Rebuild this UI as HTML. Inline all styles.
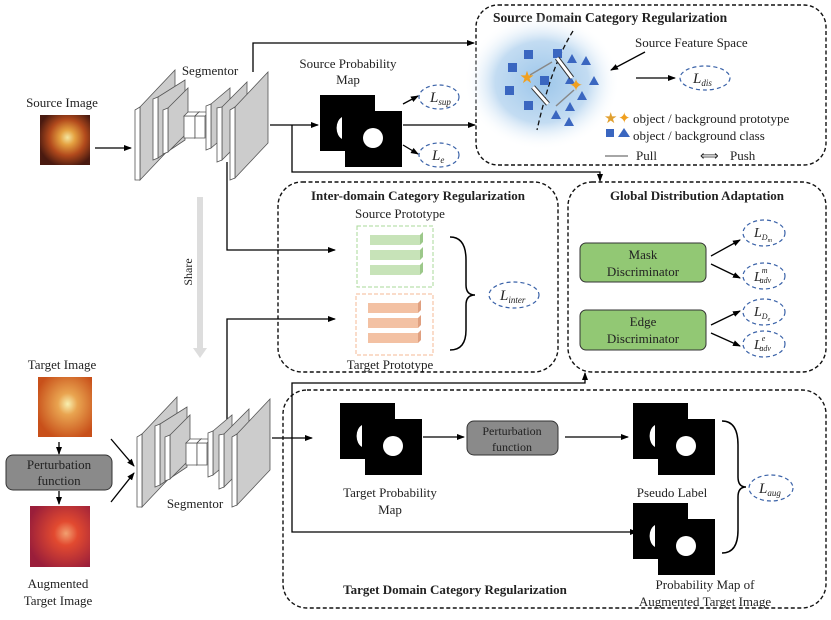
<!DOCTYPE html>
<html><head><meta charset="utf-8"><style>body{margin:0;background:#fff}svg{display:block}text{font-family:"Liberation Serif",serif;fill:#222}</style></head><body>
<svg width="831" height="620" viewBox="0 0 831 620" xmlns="http://www.w3.org/2000/svg">
<defs>
<marker id="a" markerWidth="8" markerHeight="8" refX="7" refY="4" orient="auto" markerUnits="userSpaceOnUse"><path d="M0,1 L8,4 L0,7 Z" fill="#000"/></marker>
<radialGradient id="glow" cx="50%" cy="50%" r="50%"><stop offset="0" stop-color="#9cc6ea"/><stop offset="0.6" stop-color="#c3dcf2"/><stop offset="1" stop-color="#fff" stop-opacity="0"/></radialGradient>
<radialGradient id="fund" cx="55%" cy="45%" r="60%"><stop offset="0" stop-color="#f4e6a0"/><stop offset="0.25" stop-color="#e4a040"/><stop offset="0.6" stop-color="#b24a1c"/><stop offset="1" stop-color="#4a1a10"/></radialGradient>
<radialGradient id="fund3" cx="55%" cy="45%" r="60%"><stop offset="0" stop-color="#f8f0b0"/><stop offset="0.3" stop-color="#e9a450"/><stop offset="1" stop-color="#c8501a"/></radialGradient>
<radialGradient id="fund4" cx="60%" cy="45%" r="65%"><stop offset="0" stop-color="#f2a070"/><stop offset="0.3" stop-color="#e24a30"/><stop offset="1" stop-color="#9a1e3a"/></radialGradient>
<g id="seg" stroke="#555" stroke-width="0.8">
<polygon points="140,180 140,107 175,70 175,143" fill="#ccc"/><polygon points="135,180 135,110 140,107 140,180" fill="#fff"/>
<polygon points="158,158 158,97 185,80 185,140" fill="#ccc"/><polygon points="153,160 153,99 158,97 158,158" fill="#fff"/>
<polygon points="168,152 168,108 188,88 188,132" fill="#ccc"/><polygon points="163,154 163,110 168,108 168,152" fill="#fff"/>
<polygon points="184,138 184,116 195,116 195,138" fill="#fff"/><polygon points="184,116 188,112 199,112 195,116" fill="#fff"/><polygon points="195,138 195,116 199,112 199,134" fill="#ddd"/>
<polygon points="195,138 195,116 205,116 205,138" fill="#fff"/><polygon points="195,116 199,112 209,112 205,116" fill="#fff"/>
<polygon points="211,148 211,104 230,88 230,132" fill="#ccc"/><polygon points="206,150 206,106 211,104 211,148" fill="#fff"/>
<polygon points="222,160 222,107 247,82 247,135" fill="#ccc"/><polygon points="217,162 217,108 222,107 222,160" fill="#fff"/>
<polygon points="235,178 235,107 268,72 268,143" fill="#ccc"/><polygon points="230,180 230,110 235,107 235,178" fill="#fff"/>
</g>
<g id="pm"><rect x="0" y="0" width="55" height="56" fill="#000"/><path d="M22,22 a9,12 0 0 0 0,22 Z" fill="#fff"/><rect x="25" y="16" width="57" height="56" fill="#000"/><circle cx="53" cy="43" r="10" fill="#fff"/></g>
</defs>

<text x="62" y="107" font-size="13" text-anchor="middle">Source Image</text>
<rect x="40" y="115" width="50" height="50" fill="url(#fund)"/>
<line x1="95" y1="148" x2="131" y2="148" stroke="#000" stroke-width="1.3" marker-end="url(#a)"/>

<use href="#seg"/>
<text x="210" y="75" font-size="13" text-anchor="middle">Segmentor</text>
<polyline points="253,72 253,43 474,43" fill="none" stroke="#000" stroke-width="1.3" marker-end="url(#a)"/>
<text x="348" y="68" font-size="13" text-anchor="middle">Source Probability</text>
<text x="348" y="84" font-size="13" text-anchor="middle">Map</text>
<use href="#pm" x="320" y="95"/>
<line x1="270" y1="125" x2="318" y2="125" stroke="#000" stroke-width="1.3" marker-end="url(#a)"/>
<polyline points="292,125 292,172 600,172 600,181" fill="none" stroke="#000" stroke-width="1.3" marker-end="url(#a)"/>
<line x1="403" y1="125" x2="475" y2="125" stroke="#000" stroke-width="1.3" marker-end="url(#a)"/>
<line x1="403" y1="104" x2="418" y2="96" stroke="#000" stroke-width="1.3" marker-end="url(#a)"/>
<line x1="403" y1="145" x2="418" y2="154" stroke="#000" stroke-width="1.3" marker-end="url(#a)"/>
<ellipse cx="439" cy="97" rx="20" ry="12" fill="none" stroke="#3a62a8" stroke-width="1.2" stroke-dasharray="4,3"/>
<text x="430" y="102" font-size="15" font-style="italic">L<tspan font-size="9" dy="3">sup</tspan></text>
<ellipse cx="439" cy="155" rx="20" ry="12" fill="none" stroke="#3a62a8" stroke-width="1.2" stroke-dasharray="4,3"/>
<text x="432" y="160" font-size="15" font-style="italic">L<tspan font-size="9" dy="3">e</tspan></text>

<rect x="476" y="5" width="350" height="160" rx="22" fill="none" stroke="#111" stroke-width="1.4" stroke-dasharray="4,2.5"/>
<text x="493" y="22" font-size="13.5" font-weight="bold">Source Domain Category Regularization</text>
<ellipse cx="542" cy="82" rx="78" ry="68" fill="url(#glow)"/>
<path d="M573,31 C555,60 545,95 537,130" fill="none" stroke="#111" stroke-width="1.3" stroke-dasharray="5,3"/>
<g fill="#3a66c0">
<rect x="524" y="50" width="9" height="9"/><rect x="508" y="63" width="9" height="9"/><rect x="540" y="76" width="9" height="9"/><rect x="505" y="86" width="9" height="9"/><rect x="524" y="101" width="9" height="9"/><rect x="553" y="49" width="9" height="9"/>
<polygon points="572,54 567,63 577,63"/><polygon points="586,56 581,65 591,65"/><polygon points="594,76 589,85 599,85"/><polygon points="582,91 577,100 587,100"/><polygon points="570,102 565,111 575,111"/><polygon points="570,75 565,84 575,84"/><polygon points="556,110 551,119 561,119"/><polygon points="569,117 564,126 574,126"/>
</g>
<line x1="530" y1="75" x2="552" y2="62" stroke="#888" stroke-width="1.5"/>
<line x1="574" y1="90" x2="556" y2="106" stroke="#888" stroke-width="1.5"/>
<path d="M557,58 L572,78" stroke="#333" stroke-width="5"/><path d="M557,58 L572,78" stroke="#fff" stroke-width="3"/>
<path d="M533,87 L548,104" stroke="#333" stroke-width="5"/><path d="M533,87 L548,104" stroke="#fff" stroke-width="3"/>
<text x="527" y="83" font-size="17" style="fill:#f0a020" text-anchor="middle">★</text>
<text x="576" y="91" font-size="17" style="fill:#f0a020" text-anchor="middle">✦</text>
<text x="635" y="47" font-size="13">Source Feature Space</text>
<line x1="645" y1="52" x2="611" y2="70" stroke="#000" stroke-width="1.3" marker-end="url(#a)"/>
<line x1="636" y1="78" x2="675" y2="78" stroke="#000" stroke-width="1.3" marker-end="url(#a)"/>
<ellipse cx="705" cy="78" rx="25" ry="12" fill="none" stroke="#3a62a8" stroke-width="1.2" stroke-dasharray="4,3"/>
<text x="693" y="83" font-size="15" font-style="italic">L<tspan font-size="9" dy="3">dis</tspan></text>
<text x="604" y="123" font-size="15" style="fill:#e0a030">★</text><text x="618" y="123" font-size="15" style="fill:#f0a020">✦</text>
<text x="633" y="123" font-size="13">object / background prototype</text>
<rect x="606" y="129" width="8" height="8" fill="#3a66c0"/><polygon points="624,128 618,137 630,137" fill="#3a66c0"/>
<text x="633" y="140" font-size="13">object / background  class</text>
<line x1="605" y1="156" x2="628" y2="156" stroke="#888" stroke-width="1.5"/>
<text x="636" y="160" font-size="13">Pull</text>
<text x="700" y="160" font-size="13">⟺</text>
<text x="730" y="160" font-size="13">Push</text>

<line x1="200" y1="197" x2="200" y2="350" stroke="#ddd" stroke-width="6"/>
<polygon points="193,348 207,348 200,358" fill="#ddd"/>
<text x="192" y="272" font-size="12" transform="rotate(-90 192 272)" text-anchor="middle">Share</text>

<rect x="278" y="182" width="280" height="190" rx="24" fill="none" stroke="#111" stroke-width="1.4" stroke-dasharray="4,2.5"/>
<text x="418" y="200" font-size="13" font-weight="bold" text-anchor="middle">Inter-domain Category Regularization</text>
<text x="400" y="218" font-size="13" text-anchor="middle">Source Prototype</text>
<rect x="357" y="226" width="76" height="61" fill="none" stroke="#a8d898" stroke-dasharray="4,2"/>
<g fill="#c7e3b8"><rect x="370" y="235" width="50" height="10"/><rect x="370" y="250" width="50" height="10"/><rect x="370" y="265" width="50" height="10"/></g>
<g fill="#9cc88a"><polygon points="420,235 423,232 423,242 420,245"/><polygon points="420,250 423,247 423,257 420,260"/><polygon points="420,265 423,262 423,272 420,275"/></g>
<rect x="356" y="294" width="77" height="61" fill="none" stroke="#f4b894" stroke-dasharray="4,2"/>
<g fill="#f3c1a3"><rect x="368" y="303" width="50" height="10"/><rect x="368" y="318" width="50" height="10"/><rect x="368" y="333" width="50" height="10"/></g>
<g fill="#e0a080"><polygon points="418,303 421,300 421,310 418,313"/><polygon points="418,318 421,315 421,325 418,328"/><polygon points="418,333 421,330 421,340 418,343"/></g>
<text x="390" y="369" font-size="13" text-anchor="middle">Target Prototype</text>
<path d="M450,237 Q466,237 466,260 L466,285 Q466,295 475,295 Q466,295 466,305 L466,330 Q466,350 450,350" fill="none" stroke="#000" stroke-width="1.5"/>
<ellipse cx="514" cy="295" rx="25" ry="13" fill="none" stroke="#3a62a8" stroke-width="1.2" stroke-dasharray="4,3"/>
<text x="500" y="300" font-size="15" font-style="italic">L<tspan font-size="9" dy="3">inter</tspan></text>
<polyline points="227,162 227,250 335,250" fill="none" stroke="#000" stroke-width="1.3" marker-end="url(#a)"/>
<polyline points="227,432 227,319 335,319" fill="none" stroke="#000" stroke-width="1.3" marker-end="url(#a)"/>

<rect x="568" y="182" width="258" height="190" rx="24" fill="none" stroke="#111" stroke-width="1.4" stroke-dasharray="4,2.5"/>
<text x="697" y="200" font-size="13" font-weight="bold" text-anchor="middle">Global Distribution Adaptation</text>
<rect x="580" y="243" width="126" height="39" rx="6" fill="#92c874" stroke="#333"/>
<text x="643" y="259" font-size="13" text-anchor="middle">Mask</text><text x="643" y="276" font-size="13" text-anchor="middle">Discriminator</text>
<rect x="580" y="310" width="126" height="40" rx="6" fill="#92c874" stroke="#333"/>
<text x="643" y="326" font-size="13" text-anchor="middle">Edge</text><text x="643" y="343" font-size="13" text-anchor="middle">Discriminator</text>
<g stroke="#000" stroke-width="1.3"><line x1="711" y1="256" x2="740" y2="240" marker-end="url(#a)"/><line x1="711" y1="264" x2="740" y2="278" marker-end="url(#a)"/><line x1="711" y1="325" x2="740" y2="311" marker-end="url(#a)"/><line x1="711" y1="333" x2="740" y2="346" marker-end="url(#a)"/></g>
<g fill="none" stroke="#3a62a8" stroke-width="1.2" stroke-dasharray="4,3"><ellipse cx="764" cy="233" rx="21" ry="13"/><ellipse cx="764" cy="276" rx="21" ry="13"/><ellipse cx="764" cy="312" rx="21" ry="13"/><ellipse cx="764" cy="344" rx="21" ry="13"/></g>
<text x="754" y="237" font-size="14" font-style="italic">L<tspan font-size="8" dy="3">D<tspan font-size="6" dy="2">m</tspan></tspan></text>
<text x="754" y="281" font-size="14" font-style="italic">L<tspan font-size="8" dy="-8">m</tspan><tspan font-size="8" dy="10" dx="-8">adv</tspan></text>
<text x="754" y="316" font-size="14" font-style="italic">L<tspan font-size="8" dy="3">D<tspan font-size="6" dy="2">e</tspan></tspan></text>
<text x="754" y="349" font-size="14" font-style="italic">L<tspan font-size="8" dy="-8">e</tspan><tspan font-size="8" dy="10" dx="-6">adv</tspan></text>

<text x="62" y="369" font-size="13" text-anchor="middle">Target Image</text>
<rect x="38" y="377" width="54" height="60" fill="url(#fund3)"/>
<line x1="59" y1="442" x2="59" y2="454" stroke="#000" stroke-width="1.3" marker-end="url(#a)"/>
<rect x="6" y="455" width="106" height="35" rx="7" fill="#8a8a8a" stroke="#333"/>
<text x="59" y="469" font-size="13" text-anchor="middle">Perturbation</text><text x="59" y="485" font-size="13" text-anchor="middle">function</text>
<line x1="59" y1="491" x2="59" y2="504" stroke="#000" stroke-width="1.3" marker-end="url(#a)"/>
<rect x="30" y="506" width="60" height="61" fill="url(#fund4)"/>
<text x="58" y="588" font-size="13" text-anchor="middle">Augmented</text><text x="58" y="605" font-size="13" text-anchor="middle">Target Image</text>
<line x1="111" y1="439" x2="134" y2="466" stroke="#000" stroke-width="1.3" marker-end="url(#a)"/>
<line x1="111" y1="502" x2="134" y2="473" stroke="#000" stroke-width="1.3" marker-end="url(#a)"/>
<use href="#seg" x="2" y="327"/>
<text x="195" y="508" font-size="13" text-anchor="middle">Segmentor</text>
<line x1="272" y1="438" x2="312" y2="438" stroke="#000" stroke-width="1.3" marker-end="url(#a)"/>
<polyline points="292,438 292,383 585,383 585,373" fill="none" stroke="#000" stroke-width="1.3" marker-end="url(#a)"/>
<polyline points="292,438 292,532 637,532" fill="none" stroke="#000" stroke-width="1.3" marker-end="url(#a)"/>

<rect x="283" y="390" width="543" height="218" rx="24" fill="none" stroke="#111" stroke-width="1.4" stroke-dasharray="4,2.5"/>
<use href="#pm" x="340" y="403"/>
<text x="390" y="497" font-size="13" text-anchor="middle">Target Probability</text><text x="390" y="514" font-size="13" text-anchor="middle">Map</text>
<line x1="423" y1="437" x2="464" y2="437" stroke="#000" stroke-width="1.3" marker-end="url(#a)"/>
<rect x="467" y="421" width="91" height="34" rx="7" fill="#8a8a8a" stroke="#333"/>
<text x="512" y="435" font-size="12" text-anchor="middle">Perturbation</text><text x="512" y="451" font-size="12" text-anchor="middle">function</text>
<line x1="565" y1="437" x2="628" y2="437" stroke="#000" stroke-width="1.3" marker-end="url(#a)"/>
<use href="#pm" x="633" y="403"/>
<text x="672" y="497" font-size="13" text-anchor="middle">Pseudo Label</text>
<use href="#pm" x="633" y="503"/>
<path d="M722,421 Q738,421 738,445 L738,477 Q738,487 746,487 Q738,487 738,497 L738,530 Q738,553 722,553" fill="none" stroke="#000" stroke-width="1.5"/>
<ellipse cx="771" cy="488" rx="22" ry="13" fill="none" stroke="#3a62a8" stroke-width="1.2" stroke-dasharray="4,3"/>
<text x="759" y="493" font-size="15" font-style="italic">L<tspan font-size="9" dy="3">aug</tspan></text>
<text x="455" y="594" font-size="13" font-weight="bold" text-anchor="middle">Target Domain Category Regularization</text>
<text x="705" y="589" font-size="13" text-anchor="middle">Probability Map of</text>
<text x="705" y="606" font-size="13" text-anchor="middle">Augmented  Target Image</text>
</svg>
</body></html>
